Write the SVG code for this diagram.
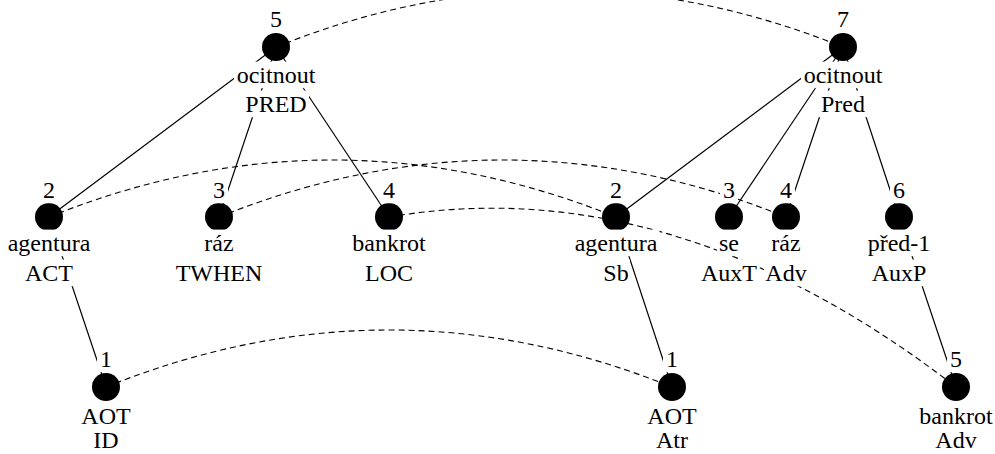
<svg xmlns="http://www.w3.org/2000/svg" width="995" height="454" viewBox="0 0 995 454">
  <style>
    .edge { fill: none; stroke: #000; stroke-width: 1.2; }
    .link { fill: none; stroke: #000; stroke-width: 1.1; stroke-dasharray: 6 4; }
    .dot { fill: #000; }
    .bg { fill: #fff; }
    text { font-family: "Liberation Serif", "Times New Roman", serif; font-size: 24px; fill: #000; text-anchor: middle; }
  </style>

  <!-- tree edges and alignment links -->
  <g id="connectors">
    <!-- left tree -->
    <path class="edge" d="M276,47 L49,217"/>
    <path class="edge" d="M276,47 L219,217"/>
    <path class="edge" d="M276,47 L389,217"/>
    <path class="edge" d="M49,217 L106,387"/>
    <!-- right tree -->
    <path class="edge" d="M843,47 L616,217"/>
    <path class="edge" d="M843,47 L729,217"/>
    <path class="edge" d="M843,47 L786,217"/>
    <path class="edge" d="M843,47 L899,217"/>
    <path class="edge" d="M616,217 L672,387"/>
    <path class="edge" d="M899,217 L956,387"/>
    <!-- alignment links -->
    <path class="link" d="M276,47 Q559.5,-67 843,47"/>
    <path class="link" d="M49,217 Q332.5,103 616,217"/>
    <path class="link" d="M219,217 Q502.5,103 786,217"/>
    <path class="link" d="M389,217 Q672.5,168.5 956,387"/>
    <path class="link" d="M106,387 Q389,273 672,387"/>
  </g>

  <!-- left tree nodes -->
  <g id="l5">
    <circle class="dot" cx="276" cy="47" r="14"/>
    <rect class="bg" x="267" y="5.6" width="18" height="26.6"/>
    <text x="276" y="27">5</text>
    <rect class="bg" x="234" y="61.6" width="84" height="26.6"/>
    <text x="276" y="83">ocitnout</text>
    <rect class="bg" x="243" y="90.6" width="66" height="26.6"/>
    <text x="276" y="112">PRED</text>
  </g>
  <g id="l2">
    <circle class="dot" cx="49" cy="217" r="14"/>
    <rect class="bg" x="40" y="176.6" width="18" height="26.6"/>
    <text x="49" y="198">2</text>
    <rect class="bg" x="5.5" y="229.6" width="87" height="26.6"/>
    <text x="49" y="251">agentura</text>
    <rect class="bg" x="23" y="259.6" width="52" height="26.6"/>
    <text x="49" y="281">ACT</text>
  </g>
  <g id="l3">
    <circle class="dot" cx="219" cy="217" r="14"/>
    <rect class="bg" x="210" y="176.6" width="18" height="26.6"/>
    <text x="219" y="198">3</text>
    <rect class="bg" x="202" y="229.6" width="34" height="26.6"/>
    <text x="219" y="251">ráz</text>
    <rect class="bg" x="174" y="259.6" width="90" height="26.6"/>
    <text x="219" y="281">TWHEN</text>
  </g>
  <g id="l4">
    <circle class="dot" cx="389" cy="217" r="14"/>
    <rect class="bg" x="380" y="176.6" width="18" height="26.6"/>
    <text x="389" y="198">4</text>
    <rect class="bg" x="350" y="229.6" width="78" height="26.6"/>
    <text x="389" y="251">bankrot</text>
    <rect class="bg" x="363" y="259.6" width="52" height="26.6"/>
    <text x="389" y="281">LOC</text>
  </g>
  <g id="l1">
    <circle class="dot" cx="106" cy="387" r="14"/>
    <rect class="bg" x="97" y="345.6" width="18" height="26.6"/>
    <text x="106" y="367">1</text>
    <rect class="bg" x="81" y="402.6" width="50" height="26.6"/>
    <text x="106" y="424">AOT</text>
    <rect class="bg" x="92" y="428" width="28" height="26"/>
    <text x="106" y="448">ID</text>
  </g>

  <!-- right tree nodes -->
  <g id="r7">
    <circle class="dot" cx="843" cy="47" r="14"/>
    <rect class="bg" x="834" y="5.6" width="18" height="26.6"/>
    <text x="843" y="27">7</text>
    <rect class="bg" x="801" y="61.6" width="84" height="26.6"/>
    <text x="843" y="83">ocitnout</text>
    <rect class="bg" x="819" y="90.6" width="48" height="26.6"/>
    <text x="843" y="112">Pred</text>
  </g>
  <g id="r2">
    <circle class="dot" cx="616" cy="217" r="14"/>
    <rect class="bg" x="607" y="176.6" width="18" height="26.6"/>
    <text x="616" y="198">2</text>
    <rect class="bg" x="572.5" y="229.6" width="87" height="26.6"/>
    <text x="616" y="251">agentura</text>
    <rect class="bg" x="602" y="259.6" width="28" height="26.6"/>
    <text x="616" y="281">Sb</text>
  </g>
  <g id="r3">
    <circle class="dot" cx="729" cy="217" r="14"/>
    <rect class="bg" x="720" y="176.6" width="18" height="26.6"/>
    <text x="729" y="198">3</text>
    <rect class="bg" x="717" y="229.6" width="24" height="26.6"/>
    <text x="729" y="251">se</text>
    <rect class="bg" x="700" y="259.6" width="58" height="26.6"/>
    <text x="729" y="281">AuxT</text>
  </g>
  <g id="r4">
    <circle class="dot" cx="786" cy="217" r="14"/>
    <rect class="bg" x="777" y="176.6" width="18" height="26.6"/>
    <text x="786" y="198">4</text>
    <rect class="bg" x="769" y="229.6" width="34" height="26.6"/>
    <text x="786" y="251">ráz</text>
    <rect class="bg" x="764" y="259.6" width="44" height="26.6"/>
    <text x="786" y="281">Adv</text>
  </g>
  <g id="r6">
    <circle class="dot" cx="899" cy="217" r="14"/>
    <rect class="bg" x="890" y="176.6" width="18" height="26.6"/>
    <text x="899" y="198">6</text>
    <rect class="bg" x="866" y="229.6" width="66" height="26.6"/>
    <text x="899" y="251">před-1</text>
    <rect class="bg" x="871" y="259.6" width="56" height="26.6"/>
    <text x="899" y="281">AuxP</text>
  </g>
  <g id="r1">
    <circle class="dot" cx="672" cy="387" r="14"/>
    <rect class="bg" x="663" y="345.6" width="18" height="26.6"/>
    <text x="672" y="367">1</text>
    <rect class="bg" x="647" y="402.6" width="50" height="26.6"/>
    <text x="672" y="424">AOT</text>
    <rect class="bg" x="655" y="428" width="34" height="26"/>
    <text x="672" y="448">Atr</text>
  </g>
  <g id="r5">
    <circle class="dot" cx="956" cy="387" r="14"/>
    <rect class="bg" x="947" y="345.6" width="18" height="26.6"/>
    <text x="956" y="367">5</text>
    <rect class="bg" x="917" y="402.6" width="78" height="26.6"/>
    <text x="956" y="424">bankrot</text>
    <rect class="bg" x="934" y="428" width="44" height="26"/>
    <text x="956" y="448">Adv</text>
  </g>
</svg>
